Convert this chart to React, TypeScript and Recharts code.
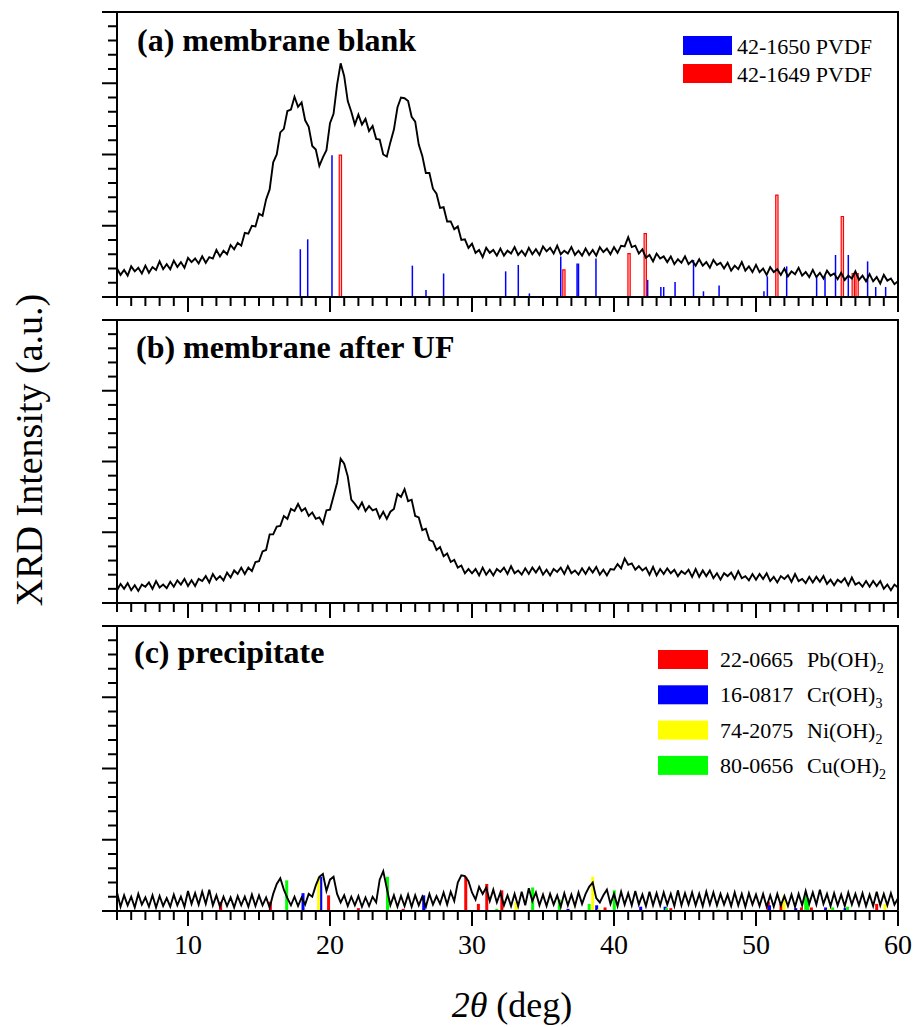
import React from "react";
import {
  LineChart,
  Line,
  XAxis,
  YAxis,
  ReferenceLine,
  ReferenceArea,
} from "recharts";

// 2θ grid: 5° to 60° in 0.25° steps
const START = 5;
const STEP = 0.25;

// (a) membrane blank
const blankValues = [
  0.40, 0.31, 0.38, 0.30, 0.43, 0.36, 0.41, 0.33, 0.44, 0.34, 0.42, 0.38,
  0.50, 0.39, 0.46, 0.39, 0.51, 0.42, 0.49, 0.41, 0.55, 0.49, 0.54, 0.47,
  0.57, 0.48, 0.56, 0.54, 0.66, 0.57, 0.65, 0.60, 0.73, 0.67, 0.76, 0.72,
  0.90, 0.89, 1.00, 0.99, 1.17, 1.14, 1.37, 1.51, 1.89, 2.00, 2.31, 2.36,
  2.61, 2.63, 2.81, 2.67, 2.73, 2.48, 2.39, 2.12, 2.07, 1.84, 1.96, 2.06,
  2.44, 2.57, 2.98, 3.28, 3.10, 2.75, 2.60, 2.42, 2.56, 2.42, 2.50, 2.33,
  2.40, 2.22, 2.21, 2.00, 1.97, 2.17, 2.35, 2.66, 2.80, 2.79, 2.75, 2.53,
  2.46, 2.14, 1.98, 1.74, 1.74, 1.52, 1.45, 1.25, 1.26, 1.06, 1.06, 0.95,
  0.99, 0.80, 0.81, 0.69, 0.75, 0.62, 0.66, 0.56, 0.69, 0.62, 0.66, 0.58,
  0.68, 0.58, 0.65, 0.61, 0.70, 0.59, 0.65, 0.58, 0.69, 0.60, 0.67, 0.59,
  0.71, 0.64, 0.69, 0.61, 0.72, 0.60, 0.65, 0.61, 0.70, 0.59, 0.65, 0.58,
  0.68, 0.59, 0.66, 0.58, 0.70, 0.63, 0.68, 0.60, 0.70, 0.62, 0.72, 0.71,
  0.84, 0.70, 0.72, 0.61, 0.67, 0.55, 0.59, 0.50, 0.61, 0.54, 0.57, 0.49,
  0.57, 0.46, 0.53, 0.48, 0.57, 0.46, 0.51, 0.44, 0.53, 0.44, 0.49, 0.41,
  0.52, 0.45, 0.48, 0.40, 0.48, 0.37, 0.44, 0.39, 0.49, 0.37, 0.43, 0.35,
  0.45, 0.35, 0.40, 0.31, 0.42, 0.35, 0.39, 0.31, 0.40, 0.29, 0.36, 0.32,
  0.41, 0.30, 0.35, 0.28, 0.38, 0.28, 0.34, 0.26, 0.37, 0.30, 0.33, 0.25,
  0.34, 0.24, 0.30, 0.26, 0.36, 0.24, 0.30, 0.22, 0.32, 0.22, 0.28, 0.19,
  0.31, 0.23, 0.26, 0.18, 0.22,
];

// (b) membrane after UF
const afterUfValues = [
  0.18, 0.27, 0.20, 0.28, 0.18, 0.25, 0.17, 0.26, 0.23, 0.29, 0.20, 0.31,
  0.22, 0.26, 0.21, 0.30, 0.23, 0.32, 0.26, 0.34, 0.24, 0.32, 0.24, 0.34,
  0.31, 0.38, 0.29, 0.41, 0.33, 0.38, 0.32, 0.43, 0.36, 0.46, 0.41, 0.50,
  0.41, 0.50, 0.45, 0.58, 0.59, 0.73, 0.75, 0.97, 0.97, 1.08, 1.09, 1.23,
  1.19, 1.33, 1.30, 1.40, 1.30, 1.34, 1.23, 1.28, 1.19, 1.21, 1.12, 1.31,
  1.32, 1.51, 1.70, 2.04, 1.97, 1.79, 1.46, 1.40, 1.33, 1.42, 1.30, 1.37,
  1.31, 1.33, 1.20, 1.29, 1.19, 1.29, 1.33, 1.54, 1.50, 1.61, 1.44, 1.46,
  1.23, 1.21, 1.03, 1.05, 0.89, 0.87, 0.75, 0.79, 0.66, 0.70, 0.58, 0.61,
  0.50, 0.53, 0.42, 0.48, 0.42, 0.48, 0.39, 0.50, 0.40, 0.47, 0.39, 0.48,
  0.44, 0.50, 0.41, 0.52, 0.42, 0.46, 0.40, 0.49, 0.41, 0.50, 0.43, 0.51,
  0.40, 0.47, 0.39, 0.48, 0.44, 0.50, 0.41, 0.52, 0.42, 0.46, 0.40, 0.49,
  0.41, 0.50, 0.43, 0.51, 0.40, 0.47, 0.39, 0.48, 0.47, 0.55, 0.49, 0.63,
  0.54, 0.56, 0.47, 0.52, 0.46, 0.50, 0.40, 0.51, 0.39, 0.48, 0.41, 0.49,
  0.42, 0.47, 0.38, 0.45, 0.41, 0.47, 0.37, 0.48, 0.37, 0.46, 0.38, 0.46,
  0.35, 0.42, 0.33, 0.42, 0.38, 0.43, 0.34, 0.45, 0.35, 0.38, 0.32, 0.41,
  0.33, 0.41, 0.34, 0.42, 0.31, 0.37, 0.29, 0.38, 0.34, 0.39, 0.30, 0.41,
  0.31, 0.34, 0.28, 0.37, 0.29, 0.37, 0.30, 0.38, 0.27, 0.33, 0.25, 0.33,
  0.29, 0.35, 0.25, 0.36, 0.26, 0.29, 0.23, 0.31, 0.23, 0.31, 0.24, 0.31,
  0.20, 0.26, 0.18, 0.26, 0.22,
];

// (c) precipitate
const precipitateValues = [
  0.26, 0.06, 0.22, 0.08, 0.20, 0.05, 0.24, 0.09, 0.19, 0.06, 0.22, 0.05,
  0.21, 0.07, 0.18, 0.06, 0.23, 0.08, 0.20, 0.06, 0.28, 0.10, 0.25, 0.09,
  0.27, 0.10, 0.30, 0.08, 0.22, 0.06, 0.20, 0.07, 0.19, 0.05, 0.21, 0.08,
  0.20, 0.06, 0.23, 0.07, 0.22, 0.08, 0.19, 0.05, 0.24, 0.38, 0.46, 0.30,
  0.18, 0.08, 0.20, 0.07, 0.19, 0.09, 0.24, 0.20, 0.36, 0.48, 0.52, 0.28,
  0.44, 0.48, 0.24, 0.12, 0.22, 0.07, 0.20, 0.08, 0.21, 0.06, 0.19, 0.07,
  0.20, 0.12, 0.44, 0.56, 0.32, 0.08, 0.22, 0.06, 0.21, 0.07, 0.23, 0.06,
  0.22, 0.08, 0.20, 0.06, 0.24, 0.09, 0.21, 0.10, 0.26, 0.09, 0.27, 0.14,
  0.40, 0.50, 0.49, 0.42, 0.26, 0.16, 0.34, 0.24, 0.33, 0.14, 0.30, 0.12,
  0.26, 0.08, 0.22, 0.07, 0.24, 0.07, 0.27, 0.08, 0.32, 0.14, 0.26, 0.08,
  0.23, 0.07, 0.24, 0.09, 0.22, 0.06, 0.25, 0.08, 0.23, 0.07, 0.26, 0.10,
  0.24, 0.34, 0.40, 0.18, 0.12, 0.22, 0.30, 0.10, 0.24, 0.07, 0.27, 0.09,
  0.25, 0.08, 0.28, 0.09, 0.23, 0.07, 0.27, 0.08, 0.25, 0.08, 0.26, 0.09,
  0.24, 0.07, 0.29, 0.08, 0.25, 0.09, 0.26, 0.08, 0.24, 0.07, 0.27, 0.09,
  0.26, 0.08, 0.24, 0.09, 0.23, 0.07, 0.26, 0.08, 0.24, 0.06, 0.25, 0.09,
  0.23, 0.07, 0.24, 0.06, 0.22, 0.06, 0.24, 0.08, 0.21, 0.07, 0.23, 0.06,
  0.24, 0.08, 0.28, 0.10, 0.26, 0.09, 0.30, 0.10, 0.24, 0.07, 0.25, 0.08,
  0.23, 0.07, 0.26, 0.09, 0.24, 0.08, 0.25, 0.07, 0.23, 0.07, 0.27, 0.08,
  0.24, 0.08, 0.25, 0.09, 0.18,
];

// reference patterns: [2θ, relative height]
const pvdf1650: [number, number][] = [
  [17.91, 0.67], [18.43, 0.81], [20.14, 1.99], [25.8, 0.44], [26.76, 0.1],
  [28.0, 0.33], [32.37, 0.36], [33.26, 0.45], [34.04, 0.05], [36.25, 0.57],
  [37.4, 0.47], [37.5, 0.47], [38.73, 0.54], [42.37, 0.24], [43.3, 0.14],
  [43.5, 0.14], [44.3, 0.21], [45.6, 0.52], [46.3, 0.08], [47.4, 0.16],
  [50.56, 0.08], [50.8, 0.29], [52.16, 0.43], [54.27, 0.29], [54.86, 0.29],
  [55.6, 0.59], [56.5, 0.59], [57.86, 0.5], [58.43, 0.14], [59.13, 0.14],
];
const pvdf1649: [number, number][] = [
  [20.73, 1.99], [36.47, 0.38], [41.06, 0.61], [42.2, 0.89], [51.47, 1.43],
  [56.08, 1.13], [56.85, 0.33], [57.12, 0.33],
];

const pbOH2: [number, number][] = [
  [12.3, 0.13], [15.8, 0.13], [19.9, 0.22], [22.0, 0.04], [25.15, 0.03],
  [29.56, 0.48], [30.45, 0.1], [31.04, 0.38], [32.1, 0.29], [39.37, 0.05],
  [44.0, 0.04], [50.87, 0.13], [51.76, 0.1], [53.2, 0.05], [53.9, 0.05],
  [58.5, 0.1],
];
const crOH3: [number, number][] = [
  [18.1, 0.25], [19.35, 0.48], [26.6, 0.22], [36.76, 0.03], [38.78, 0.08],
  [41.88, 0.06], [43.6, 0.06], [50.95, 0.08], [52.8, 0.04], [54.9, 0.05],
  [56.27, 0.04],
];
const niOH2: [number, number][] = [
  [19.2, 0.48], [33.1, 0.13], [38.5, 0.48], [38.94, 0.03], [51.97, 0.22],
  [55.1, 0.03], [59.08, 0.1], [59.93, 0.01],
];
const cuOH2: [number, number][] = [
  [16.95, 0.43], [24.05, 0.48], [31.74, 0.03], [34.27, 0.33], [36.15, 0.16],
  [38.25, 0.1], [40.02, 0.29], [43.7, 0.04], [47.35, 0.02], [53.5, 0.22],
  [53.65, 0.18], [55.4, 0.05], [56.45, 0.06],
];

const xLabels = [10, 20, 30, 40, 50, 60];
const X_MIN = 5;
const X_MAX = 60;
const Y_MAX = 4;

const xTicks: number[] = [];
for (let v = X_MIN; v <= X_MAX; v++) xTicks.push(v);
const yTicks: number[] = [];
for (let i = 0; i <= Y_MAX * 5; i++) yTicks.push(i / 5);

const toRows = (vals: number[]) =>
  vals.map((y, i) => ({ x: START + i * STEP, y }));

const SERIF = '"Liberation Serif", "Times New Roman", serif';

const YTick = (props: any) => {
  const { x, y, payload } = props;
  const major = Math.abs(payload.value - Math.round(payload.value)) < 1e-6;
  const len = major ? 15 : 9;
  return <line x1={x - len} x2={x} y1={y} y2={y} stroke="#000" strokeWidth={2} />;
};

const makeXTick = (withLabels: boolean) => (props: any) => {
  const { x, y, payload } = props;
  const major = payload.value % 10 === 0;
  const len = major ? 15 : 9;
  return (
    <g>
      <line x1={x} x2={x} y1={y} y2={y + len} stroke="#000" strokeWidth={2} />
      {withLabels && xLabels.includes(payload.value) && (
        <text x={x} y={y + 43} textAnchor="middle" fontFamily={SERIF} fontSize={28} fill="#000">
          {payload.value}
        </text>
      )}
    </g>
  );
};

type Panel = {
  top: number;
  height: number;
  xAxisHeight: number;
  values: number[];
  labels: boolean;
  children?: React.ReactNode;
};

function XrdPanel({ top, height, xAxisHeight, values, labels, children }: Panel) {
  return (
    <div style={{ position: "absolute", left: 0, top }}>
      <LineChart
        width={916}
        height={height}
        data={toRows(values)}
        margin={{ top: 12, right: 18, bottom: 0, left: 0 }}
      >
        <XAxis
          dataKey="x"
          type="number"
          domain={[X_MIN, X_MAX]}
          ticks={xTicks}
          interval={0}
          allowDataOverflow
          height={xAxisHeight}
          tickLine={false}
          tickSize={0}
          tickMargin={0}
          axisLine={{ stroke: "#000", strokeWidth: 2 }}
          tick={makeXTick(labels)}
        />
        <YAxis
          type="number"
          domain={[0, Y_MAX]}
          ticks={yTicks}
          interval={0}
          allowDataOverflow
          width={117}
          tickLine={false}
          tickSize={0}
          tickMargin={0}
          axisLine={{ stroke: "#000", strokeWidth: 2 }}
          tick={<YTick />}
        />
        <ReferenceArea
          x1={X_MIN}
          x2={X_MAX}
          y1={0}
          y2={Y_MAX}
          fill="none"
          stroke="#000"
          strokeWidth={2}
          strokeOpacity={1}
        />
        {children}
        <Line
          type="linear"
          dataKey="y"
          stroke="#000"
          strokeWidth={1.9}
          strokeLinejoin="miter"
          dot={false}
          isAnimationActive={false}
        />
      </LineChart>
    </div>
  );
}

const sticks = (list: [number, number][], color: string, width: number, key: string) =>
  list.map(([p, h], i) => (
    <ReferenceLine
      key={`${key}-${i}`}
      segment={[
        { x: p, y: 0 },
        { x: p, y: h },
      ]}
      stroke={color}
      strokeWidth={width}
    />
  ));

const outlinedBars = (list: [number, number][], color: string, key: string) =>
  list.map(([p, h], i) => (
    <ReferenceArea
      key={`${key}-${i}`}
      x1={p - 0.08}
      x2={p + 0.08}
      y1={0}
      y2={h}
      fill="#ff8080"
      fillOpacity={0.4}
      stroke={color}
      strokeWidth={1.2}
      strokeOpacity={1}
    />
  ));

const legendC = [
  { color: "#ff0000", code: "22-0665", name: "Pb(OH)", sub: "2" },
  { color: "#0000ff", code: "16-0817", name: "Cr(OH)", sub: "3" },
  { color: "#ffff00", code: "74-2075", name: "Ni(OH)", sub: "2" },
  { color: "#00ff00", code: "80-0656", name: "Cu(OH)", sub: "2" },
];

export default function App() {
  return (
    <div style={{ position: "absolute", left: 0, top: 0, width: 916, height: 1027, background: "#fff" }}>
      <XrdPanel top={0} height={320} xAxisHeight={23} values={blankValues} labels={false}>
        {sticks(pvdf1650, "#0000ff", 1.5, "b")}
        {outlinedBars(pvdf1649, "#ff0000", "r")}
      </XrdPanel>
      <XrdPanel top={308} height={320} xAxisHeight={25} values={afterUfValues} labels={false} />
      <XrdPanel top={614} height={413} xAxisHeight={116} values={precipitateValues} labels>
        {sticks(pbOH2, "#ff0000", 3, "pb")}
        {sticks(crOH3, "#0000ff", 3, "cr")}
        {sticks(niOH2, "#ffff00", 3, "ni")}
        {sticks(cuOH2, "#00ff00", 3, "cu")}
      </XrdPanel>

      <svg
        width={916}
        height={1027}
        style={{ position: "absolute", left: 0, top: 0, pointerEvents: "none" }}
      >
        <g fontFamily={SERIF} fontWeight="bold" fontSize={32} fill="#000">
          <text x={137} y={51}>(a) membrane blank</text>
          <text x={136} y={358}>(b) membrane after UF</text>
          <text x={134} y={663}>(c) precipitate</text>
        </g>

        <g fontFamily={SERIF} fontSize={22} fill="#000">
          <rect x={683} y={36} width={49} height={19} fill="#0000ff" />
          <text x={737} y={54}>42-1650 PVDF</text>
          <rect x={683} y={64} width={49} height={19} fill="#ff0000" />
          <text x={737} y={82}>42-1649 PVDF</text>
        </g>

        <g fontFamily={SERIF} fontSize={22} fill="#000">
          {legendC.map((d, i) => (
            <g key={d.code}>
              <rect x={658} y={650 + i * 35.3} width={50} height={19} fill={d.color} />
              <text x={720} y={667 + i * 35.3}>
                {d.code}
              </text>
              <text x={807} y={667 + i * 35.3}>
                {d.name}
                <tspan fontSize={14} dy={6}>
                  {d.sub}
                </tspan>
              </text>
            </g>
          ))}
        </g>

        <text
          x={42}
          y={450}
          transform="rotate(-90 42 450)"
          textAnchor="middle"
          fontFamily={SERIF}
          fontSize={38}
          fill="#000"
        >
          XRD Intensity (a.u.)
        </text>

        <text x={512} y={1017} textAnchor="middle" fontFamily={SERIF} fontSize={36} fill="#000">
          <tspan fontStyle="italic">2θ</tspan> (deg)
        </text>
      </svg>
    </div>
  );
}
